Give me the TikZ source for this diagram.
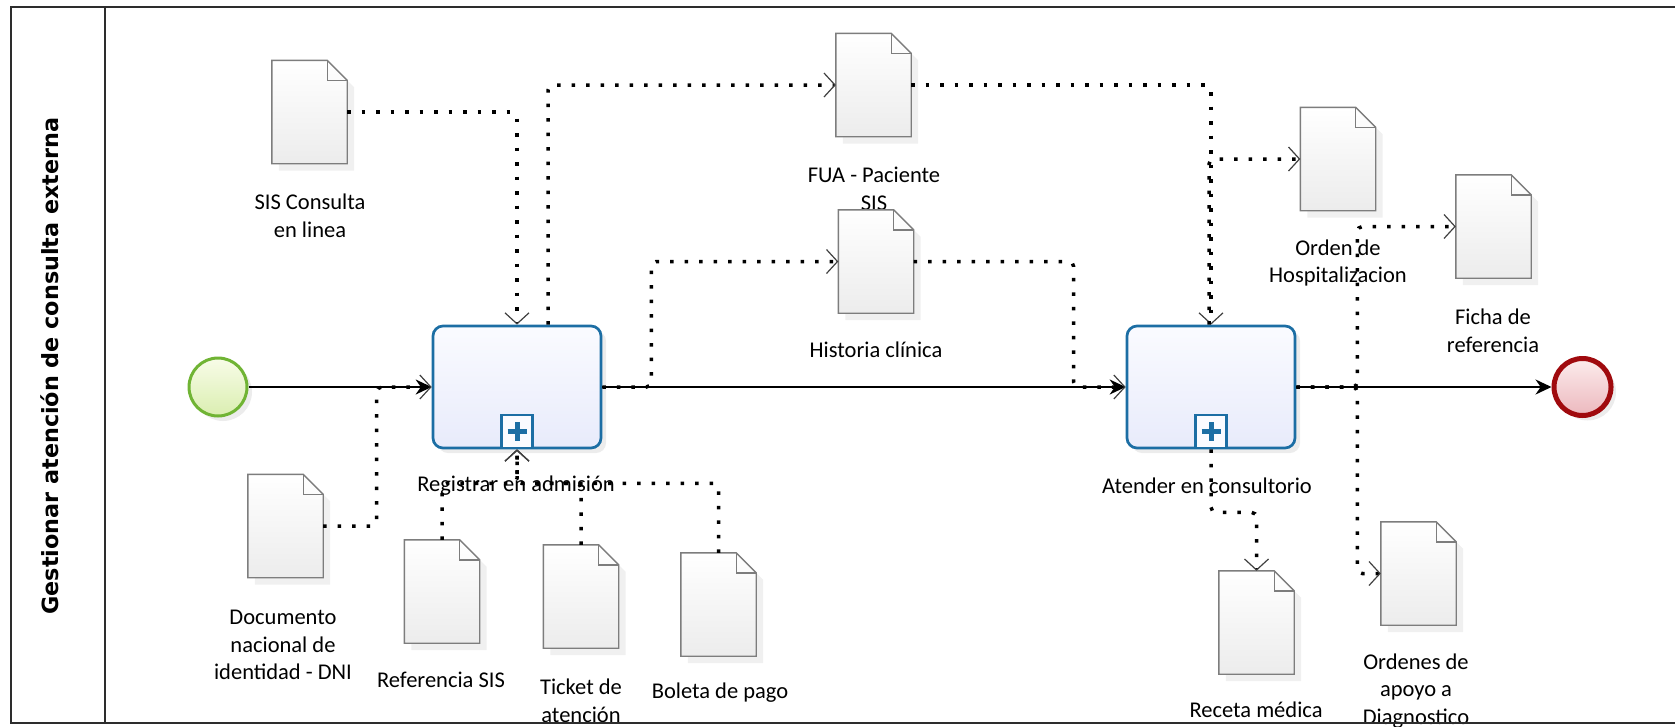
\documentclass[tikz,border=0pt]{standalone}
\usepackage{fontspec}
\usepackage{xcolor}
\usepackage{tikz}
\usetikzlibrary{shapes,arrows.meta,shadows,calc}
\newfontfamily\lblfont{Carlito}
\newfontfamily\titlefont{DejaVu Sans}
\definecolor{taskblue}{RGB}{28,110,164}
\definecolor{taskA}{RGB}{250,251,255}
\definecolor{taskB}{RGB}{232,235,251}
\definecolor{startgreen}{RGB}{112,180,52}
\definecolor{startA}{RGB}{248,252,232}
\definecolor{startB}{RGB}{218,238,176}
\definecolor{endred}{RGB}{160,10,14}
\definecolor{endA}{RGB}{252,236,236}
\definecolor{endB}{RGB}{236,184,190}
\definecolor{docgray}{RGB}{125,125,125}
\definecolor{docB}{RGB}{236,236,236}
\definecolor{framegray}{RGB}{45,45,45}
\tikzset{
    lanetitle/.style={font=\titlefont\bfseries\fontsize{22.3}{26}\selectfont, inner sep=0},
    txt/.style={font=\lblfont\fontsize{22.5}{27.5}\selectfont, align=center, inner sep=0},
    task/.style={rectangle, rounded corners=10pt, draw=taskblue, line width=2.7pt,
        top color=taskA, bottom color=taskB, minimum width=168pt, minimum height=122pt,
        drop shadow={shadow xshift=5pt, shadow yshift=-5pt, opacity=.15}},
    marker/.style={rectangle, draw=taskblue, line width=2.4pt, fill=taskA,
        minimum width=31pt, minimum height=33pt, inner sep=0},
    plus/.style={draw=taskblue, line width=5pt},
    startev/.style={circle, draw=startgreen, line width=3pt, top color=startA, bottom color=startB,
        minimum size=58pt, drop shadow={shadow xshift=5pt, shadow yshift=-5pt, opacity=.15}},
    endev/.style={circle, draw=endred, line width=5pt, top color=endA, bottom color=endB,
        minimum size=57pt, drop shadow={shadow xshift=5pt, shadow yshift=-5pt, opacity=.15}},
    dataobj/.style={rectangle, minimum width=75pt, minimum height=103pt, inner sep=0},
    docshape/.style={draw=docgray, line width=1.4pt, top color=white, bottom color=docB,
        drop shadow={shadow xshift=7pt, shadow yshift=-7pt, opacity=.12}},
    docline/.style={draw=docgray, line width=1.4pt},
    seqflow/.style={draw=black, line width=2pt, -{Stealth[length=16pt,width=15pt]}},
    assoc/.style={draw=black, line width=3.5pt, dash pattern=on 3.5pt off 11pt, rounded corners=5pt,
        -{Straight Barb[length=11pt,width=24pt,line width=1.2pt,color=black!75]}},
    frame/.style={draw=framegray, line width=2pt}
}
\begin{document}
\begin{tikzpicture}[x=1pt,y=-1pt]
    \useasboundingbox (0,0) rectangle (1675,726);
    % lane title
    \node[lanetitle, rotate=90] (lane) at (50,366) {Gestionar atención de consulta externa};
    % labels
    \node[txt] (t1-lbl) at (516,486) {Registrar en admisión};
    \node[txt] (t2-lbl) at (1207,486) {Atender en consultorio};
    \node[txt] (sis-lbl) at (310,216) {SIS Consulta\\en linea};
    \node[txt] (fua-lbl) at (874,189) {FUA - Paciente\\SIS};
    \node[txt] (hc-lbl) at (876,350) {Historia clínica};
    \node[txt] (orden-lbl) at (1338,263) {Orden de\\Hospitalizacion};
    \node[txt] (ficha-lbl) at (1493,331) {Ficha de\\referencia};
    \node[txt] (dni-lbl) at (283,645) {Documento\\nacional de\\identidad - DNI};
    \node[txt] (ref-lbl) at (441,680) {Referencia SIS};
    \node[txt] (ticket-lbl) at (581,701) {Ticket de\\atención};
    \node[txt] (boleta-lbl) at (720,693) {Boleta de pago};
    \node[txt] (receta-lbl) at (1256,710) {Receta médica};
    \node[txt] (apoyo-lbl) at (1416,691) {Ordenes de\\apoyo a\\Diagnostico};
    % data objects
    \foreach \d/\x/\y in {sis/309.5/112, fua/873.5/85, hc/876/261.5, orden/1338/159,
        ficha/1493.5/226.5, dni/285.5/526, ref/442/591.5, ticket/581/596.5,
        boleta/718.5/604.5, receta/1256.5/622.5, apoyo/1418.5/573.5}
    \node[dataobj] (\d) at (\x,\y) {};
    \foreach \d in {sis,fua,hc,orden,ficha,dni,ref,ticket,boleta,receta,apoyo} {
        \filldraw[docshape] (\d.north west) -- ([xshift=-20pt]\d.north east)
            -- ([yshift=-20pt]\d.north east) -- (\d.south east) -- (\d.south west) -- cycle;
        \draw[docline] ([xshift=-20pt]\d.north east) |- ([yshift=-20pt]\d.north east);
    }
    % events and tasks
    \node[startev] (start) at (218,387) {};
    \node[endev] (end) at (1582.5,387) {};
    \node[task] (t1) at (517,387) {};
    \node[task] (t2) at (1211,387) {};
    \foreach \t in {t1,t2} {
        \node[marker, anchor=south] (\t-mk) at (\t.south) {};
        \draw[plus] ($(\t-mk.center)+(-9.5,0)$) -- ++(19,0);
        \draw[plus] ($(\t-mk.center)+(0,-9.5)$) -- ++(0,19);
    }
    % sequence flow
    \draw[seqflow] (start) -- (t1);
    \draw[seqflow] (t1) -- (t2);
    \draw[seqflow] (t2) -- (end);
    % associations
    \draw[assoc] (sis.east) -| (t1.north);
    \draw[assoc] ([xshift=31pt]t1.north) |- (fua.west);
    \draw[assoc] (fua.east) -| (t2.north);
    \draw[assoc] (t1.east) -- ++(49,0) |- (hc.west);
    \draw[assoc] (hc.east) -| ([xshift=-52pt]t2.west) -- (t2.west);
    \draw[assoc] (dni.east) -| ([xshift=-55pt]t1.west) -- (t1.west);
    \foreach \d in {ref,ticket,boleta}
    \draw[assoc] (\d.north) |- ([yshift=-34pt]t1.south) -- (t1.south);
    \draw[assoc] ([xshift=-2pt]t2.north) |- (orden.west);
    \draw[assoc] (t2.east) -- ++(61,0) |- (ficha.west);
    \draw[assoc] (t2.east) -- ++(61,0) |- (apoyo.west);
    \draw[assoc] (t2.south) -- ++(0,63) -| (receta.north);
    % pool frame
    \draw[frame] (1675,7) -- (11,7) -- (11,723) -- (1675,723);
    \draw[frame] (105,7) -- (105,723);
\end{tikzpicture}
\end{document}
